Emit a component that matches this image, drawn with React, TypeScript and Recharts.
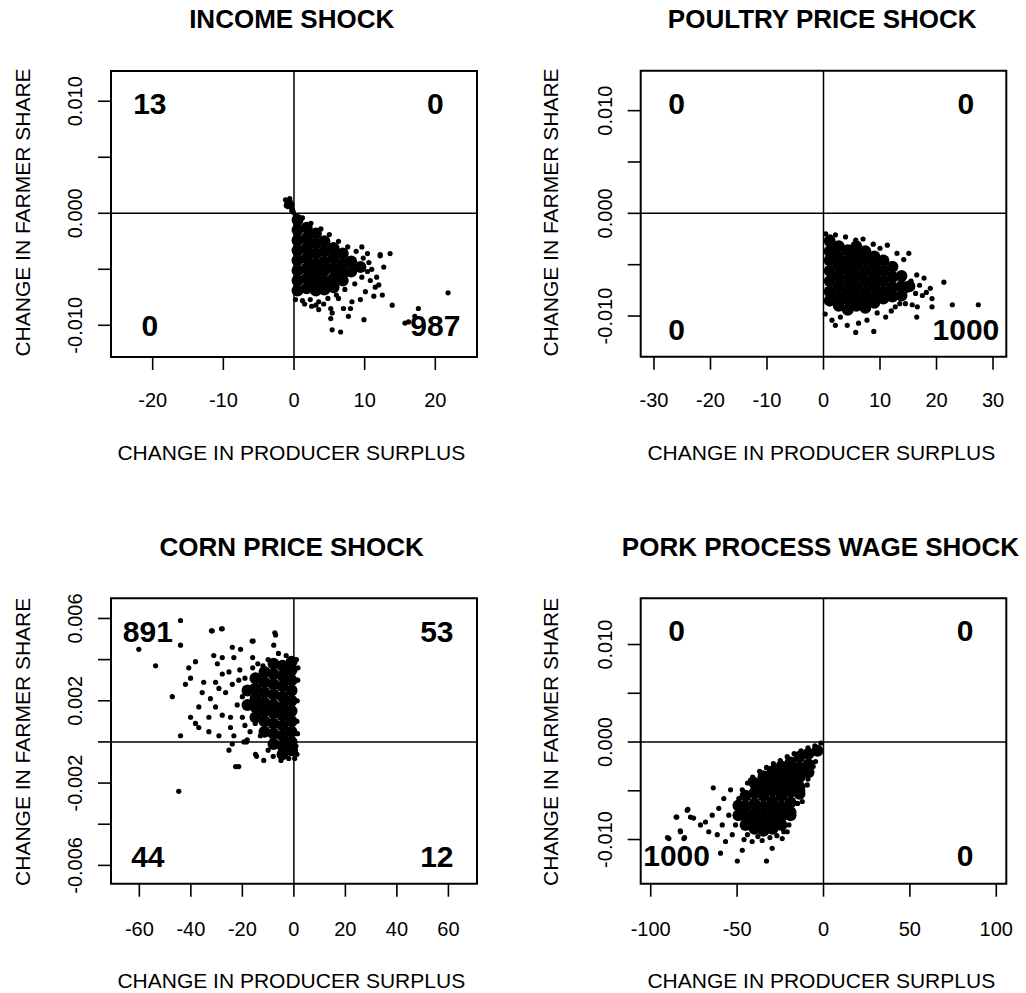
import React from 'react';
import { ScatterChart, Scatter, XAxis, YAxis, ReferenceLine, ReferenceArea, ReferenceDot } from 'recharts';

type P = [number, number];

// ---------------- INCOME SHOCK ----------------
const incomeCore: P[] = [
  [0.5,-0.0006],[0.5,-0.0015],[0.5,-0.0024],[0.5,-0.0033],[0.5,-0.0042],[0.5,-0.0051],[0.5,-0.0060],[0.5,-0.0069],
  [1.8,-0.0013],[1.8,-0.0022],[1.8,-0.0031],[1.8,-0.0040],[1.8,-0.0049],[1.8,-0.0058],[1.8,-0.0067],
  [3.1,-0.0018],[3.1,-0.0027],[3.1,-0.0036],[3.1,-0.0045],[3.1,-0.0054],[3.1,-0.0063],[3.1,-0.0069],
  [4.3,-0.0025],[4.3,-0.0034],[4.3,-0.0043],[4.3,-0.0051],[4.3,-0.0060],[4.3,-0.0068],
  [5.6,-0.0031],[5.6,-0.0040],[5.6,-0.0049],[5.6,-0.0058],[5.6,-0.0066],
  [6.9,-0.0036],[6.9,-0.0045],[6.9,-0.0054],[6.9,-0.0060],
  [8.1,-0.0043],[8.1,-0.0052],
  [9.4,-0.0048],
];
const incomePoints: P[] = [
  [-1.2,0.0012],[-1.0,0.0009],[-0.8,0.0011],[-0.7,0.0007],[-0.5,0.0010],[-0.4,0.0005],[-0.3,0.0008],[-0.2,0.0003],
  [-0.9,0.0006],[-0.6,0.0013],[-0.1,0.0001],[-0.3,0.0002],[-1.1,0.0007],
  [0.2,-0.0002],[1.2,-0.0004],[2.4,-0.0009],[3.8,-0.0014],[5.0,-0.0019],[6.3,-0.0025],[7.6,-0.0030],[8.8,-0.0034],
  [0.2,-0.0077],[1.2,-0.0078],[2.3,-0.0077],[3.5,-0.0079],[4.8,-0.0076],[6.0,-0.0073],[7.2,-0.0068],[8.6,-0.0063],
  [9.6,-0.0057],[10.4,-0.0052],[10.6,-0.0044],[9.8,-0.0040],
  [9.6,-0.0030],[10.4,-0.0036],[12.2,-0.0037],[13.6,-0.0036],[12.7,-0.0048],[11.7,-0.0057],[10.8,-0.0060],[12.0,-0.0064],
  [12.5,-0.0073],[11.3,-0.0074],[10.1,-0.0070],[9.4,-0.0077],[8.2,-0.0079],[8.0,-0.0085],[7.0,-0.0085],[6.3,-0.0076],
  [5.2,-0.0085],[5.4,-0.0089],[5.2,-0.0094],[3.5,-0.0086],[3.1,-0.0082],[7.7,-0.0092],[9.9,-0.0095],[13.9,-0.0082],
  [5.4,-0.0104],[6.6,-0.0106],[17.6,-0.0085],[16.2,-0.0097],[17.1,-0.0092],[21.8,-0.0071],[15.7,-0.0098],[12.2,-0.0038],
  [11.0,-0.0050],[11.5,-0.0066],[1.5,-0.0081],[2.5,-0.0083],[4.2,-0.0081],
];
const incomeXTicks = [-20, -10, 0, 10, 20];
const incomeYTicks = [-0.01, -0.005, 0, 0.005, 0.01];
const incomeYLabels = ['-0.010', '', '0.000', '', '0.010'];
const incomeCounts = ['13', '0', '0', '987'];
const incomeCountX = [-20.4, 20];
const incomeCountY = [0.0098, -0.0100];

// ---------------- POULTRY PRICE SHOCK ----------------
const poultryCore: P[] = [
  [1.1,-0.0027],[1.1,-0.0037],[1.1,-0.0046],[1.1,-0.0056],[1.1,-0.0066],[1.1,-0.0076],[1.1,-0.0085],
  [2.7,-0.0032],[2.7,-0.0042],[2.7,-0.0051],[2.7,-0.0061],[2.7,-0.0071],[2.7,-0.0081],[2.7,-0.0090],
  [4.3,-0.0036],[4.3,-0.0046],[4.3,-0.0055],[4.3,-0.0065],[4.3,-0.0075],[4.3,-0.0084],[4.3,-0.0094],
  [5.8,-0.0032],[5.8,-0.0042],[5.8,-0.0051],[5.8,-0.0061],[5.8,-0.0071],[5.8,-0.0081],[5.8,-0.0090],
  [7.4,-0.0037],[7.4,-0.0046],[7.4,-0.0056],[7.4,-0.0066],[7.4,-0.0076],[7.4,-0.0085],[7.4,-0.0092],
  [9.0,-0.0042],[9.0,-0.0051],[9.0,-0.0061],[9.0,-0.0071],[9.0,-0.0081],[9.0,-0.0087],
  [10.6,-0.0046],[10.6,-0.0056],[10.6,-0.0066],[10.6,-0.0076],[10.6,-0.0083],
  [12.2,-0.0052],[12.2,-0.0062],[12.2,-0.0072],[12.2,-0.0081],
  [13.8,-0.0061],[13.8,-0.0071],[13.8,-0.0080],
  [15.2,-0.0071],
];
const poultryPoints: P[] = [
  [1.2,-0.0023],[2.1,-0.0021],[3.9,-0.0023],[5.7,-0.0026],[11.3,-0.0031],[13.0,-0.0039],[15.1,-0.0039],[14.2,-0.0045],
  [17.8,-0.0063],[21.3,-0.0067],[18.9,-0.0073],[17.5,-0.0080],[19.2,-0.0083],[16.3,-0.0078],[22.8,-0.0089],[19.2,-0.0091],
  [16.6,-0.0091],[15.7,-0.0089],[11.0,-0.0101],[8.9,-0.0115],[5.7,-0.0116],[4.2,-0.0109],[2.1,-0.0109],[1.5,-0.0104],
  [6.2,-0.0107],[7.7,-0.0104],[12.7,-0.0091],[14.5,-0.0088],[27.4,-0.0089],[16.5,-0.0101],[7.0,-0.0025],[8.8,-0.0030],
  [10.0,-0.0034],[16.5,-0.0060],[15.5,-0.0066],[14.8,-0.0075],[13.5,-0.0088],[0.4,-0.0020],[0.3,-0.0098],[3.0,-0.0101],
  [9.5,-0.0097],[12.0,-0.0095],[17.0,-0.0070],[18.2,-0.0077],
];
const poultryXTicks = [-30, -20, -10, 0, 10, 20, 30];
const poultryYTicks = [-0.01, -0.005, 0, 0.005, 0.01];
const poultryYLabels = ['-0.010', '', '0.000', '', '0.010'];
const poultryCounts = ['0', '0', '0', '1000'];
const poultryCountX = [-26.0, 25.2];
const poultryCountY = [0.0107, -0.0113];

// ---------------- CORN PRICE SHOCK ----------------
const cornCore: P[] = [
  [-0.9,0.0039],[-0.9,0.0035],[-0.9,0.0030],[-0.9,0.0025],[-0.9,0.0020],[-0.9,0.0015],[-0.9,0.0010],[-0.9,0.0005],[-0.9,0.0000],[-0.9,-0.0004],
  [-4.4,0.0037],[-4.4,0.0032],[-4.4,0.0027],[-4.4,0.0022],[-4.4,0.0017],[-4.4,0.0013],[-4.4,0.0008],[-4.4,0.0003],[-4.4,-0.0002],[-4.4,-0.0006],
  [-7.9,0.0038],[-7.9,0.0033],[-7.9,0.0028],[-7.9,0.0023],[-7.9,0.0018],[-7.9,0.0014],[-7.9,0.0009],[-7.9,0.0004],[-7.9,-0.0001],
  [-11.4,0.0034],[-11.4,0.0029],[-11.4,0.0024],[-11.4,0.0019],[-11.4,0.0015],[-11.4,0.0010],[-11.4,0.0005],
  [-14.9,0.0031],[-14.9,0.0026],[-14.9,0.0021],[-14.9,0.0017],[-14.9,0.0012],
  [-18.0,0.0025],[-18.0,0.0018],
];
const cornPoints: P[] = [
  [-44.0,0.0059],[-60.2,0.0045],[-53.7,0.0037],[-44.0,0.0047],[-31.7,0.0054],[-27.8,0.0055],[-47.2,0.0022],[-44.0,0.0003],
  [-7.1,0.0052],[-16.2,0.0049],[-23.9,0.0046],[-20.7,0.0045],[-31.1,0.0042],[-27.8,0.0041],[-23.3,0.0041],[-38.2,0.0039],
  [-40.8,0.0036],[-29.7,0.0038],[-40.1,0.0031],[-42.1,0.0028],[-35.0,0.0029],[-30.4,0.0029],[-27.8,0.0033],[-25.2,0.0034],
  [-29.1,0.0026],[-35.6,0.0024],[-23.9,0.0028],[-21.4,0.0030],[-32.4,0.0021],[-26.5,0.0024],[-36.9,0.0017],[-30.4,0.0017],
  [-40.1,0.0012],[-38.2,0.0009],[-33.0,0.0012],[-27.8,0.0013],[-24.6,0.0012],[-20.0,0.0012],[-36.9,0.0007],[-33.0,0.0005],
  [-29.1,0.0003],[-24.6,0.0007],[-23.3,0.0003],[-19.4,0.0000],[-23.9,-0.0001],[-25.2,-0.0004],[-14.9,-0.0006],[-11.7,-0.0009],
  [-22.6,-0.0012],[-18.1,0.0001],[-44.7,-0.0024],[-21.4,-0.0012],[-14.5,-0.0007],[0.3,-0.0008],[-7.4,0.0053],[-7.8,0.0047],
  [-15.8,0.0049],[-28.1,0.0055],[-32.0,0.0054],[-18.4,0.0000],[-16.0,0.0036],[-19.0,0.0031],[-17.0,0.0026],[-20.0,0.0022],
  [-18.0,0.0019],[-15.0,0.0009],[-17.0,0.0005],[-13.0,0.0003],[-14.0,0.0038],[-16.0,0.0041],[-21.0,0.0035],[-22.0,0.0018],
  [-19.0,0.0008],[1.0,0.0040],[1.5,0.0030],[1.3,0.0020],[1.2,0.0010],[1.6,0.0036],[1.4,0.0004],[0.6,-0.0004],
  [1.2,-0.0006],[0.8,-0.0002],[-3.0,0.0042],[-6.0,0.0043],[-10.0,0.0040],[-12.0,0.0037],[-2.0,-0.0008],[-5.0,-0.0009],
  [-8.0,-0.0007],[-10.0,-0.0004],
];
const cornXTicks = [-60, -40, -20, 0, 20, 40, 60];
const cornYTicks = [-0.006, -0.004, -0.002, 0, 0.002, 0.004, 0.006];
const cornYLabels = ['-0.006', '', '-0.002', '', '0.002', '', '0.006'];
const cornCounts = ['891', '53', '44', '12'];
const cornCountX = [-56.7, 55.5];
const cornCountY = [0.00538, -0.00558];

// ---------------- PORK PROCESS WAGE SHOCK ----------------
const porkCore: P[] = [
  [-3.5,-0.0009],
  [-8.7,-0.0012],[-8.7,-0.0023],[-8.7,-0.0031],
  [-13.9,-0.0015],[-13.9,-0.0026],[-13.9,-0.0036],[-13.9,-0.0046],[-13.9,-0.0053],
  [-19.1,-0.0021],[-19.1,-0.0031],[-19.1,-0.0041],[-19.1,-0.0051],[-19.1,-0.0062],[-19.1,-0.0072],[-19.1,-0.0075],
  [-24.3,-0.0025],[-24.3,-0.0035],[-24.3,-0.0045],[-24.3,-0.0055],[-24.3,-0.0066],[-24.3,-0.0076],[-24.3,-0.0085],
  [-29.5,-0.0030],[-29.5,-0.0040],[-29.5,-0.0050],[-29.5,-0.0061],[-29.5,-0.0071],[-29.5,-0.0081],[-29.5,-0.0089],
  [-34.7,-0.0035],[-34.7,-0.0045],[-34.7,-0.0055],[-34.7,-0.0066],[-34.7,-0.0076],[-34.7,-0.0086],[-34.7,-0.0091],
  [-39.9,-0.0042],[-39.9,-0.0052],[-39.9,-0.0063],[-39.9,-0.0073],[-39.9,-0.0083],[-39.9,-0.0089],
  [-45.1,-0.0055],[-45.1,-0.0066],[-45.1,-0.0076],[-45.1,-0.0085],
  [-49.2,-0.0065],[-49.2,-0.0075],
];
const porkPoints: P[] = [
  [-1.5,-0.0001],[-5.0,-0.0004],[-9.0,-0.0006],[-13.0,-0.0009],[-17.0,-0.0012],[-21.0,-0.0015],[-25.0,-0.0019],[-29.0,-0.0022],
  [-33.0,-0.0026],[-37.0,-0.0030],[-41.0,-0.0036],[-44.0,-0.0042],
  [-3.0,-0.0011],[-6.0,-0.0025],[-9.0,-0.0038],[-12.0,-0.0050],[-15.0,-0.0063],[-17.5,-0.0075],[-20.0,-0.0085],[-23.0,-0.0092],
  [-27.0,-0.0096],[-31.0,-0.0098],
  [-63.8,-0.0047],[-78.9,-0.0070],[-85.3,-0.0077],[-77.0,-0.0077],[-71.2,-0.0085],[-82.8,-0.0092],[-89.5,-0.0099],[-80.8,-0.0099],
  [-90.3,-0.0098],[-49.9,-0.0122],[-33.0,-0.0122],[-59.6,-0.0114],[-47.0,-0.0111],[-29.7,-0.0109],[-64.4,-0.0075],[-60.6,-0.0068],
  [-57.7,-0.0058],[-53.8,-0.0049],[-47.0,-0.0049],[-42.2,-0.0039],[-28.8,-0.0025],[-68.3,-0.0082],[-66.4,-0.0092],[-61.5,-0.0095],
  [-56.7,-0.0102],[-52.8,-0.0095],[-50.9,-0.0085],[-58.6,-0.0085],[-54.8,-0.0075],[-50.9,-0.0066],[-49.0,-0.0058],[-41.3,-0.0102],
  [-35.5,-0.0101],[-23.9,-0.0099],[-21.0,-0.0092],[-12.3,-0.0061],[-9.4,-0.0044],[-4.6,-0.0020],[-84.9,-0.0077],[-78.5,-0.0069],
  [-75.2,-0.0078],[-82.9,-0.0091],[-80.4,-0.0098],[-44.0,-0.0095],[-38.0,-0.0097],[-46.0,-0.0100],
];
const porkXTicks = [-100, -50, 0, 50, 100];
const porkYTicks = [-0.01, -0.005, 0, 0.005, 0.01];
const porkYLabels = ['-0.010', '', '0.000', '', '0.010'];
const porkCounts = ['0', '0', '1000', '0'];
const porkCountX = [-85.0, 82.0];
const porkCountY = [0.01142, -0.01164];

const FONT = "'Liberation Sans', Arial, Helvetica, sans-serif";

const panels = [
  {
    left: 0, top: 0, mt: 71, mr: 36, yw: 111, xh: 140, xtm: 36.7,
    xDomain: [-25.9, 25.9], yDomain: [-0.01283, 0.0127],
    core: incomeCore, pts: incomePoints, xTicks: incomeXTicks, yTicks: incomeYTicks, yLabels: incomeYLabels,
    counts: incomeCounts, cx: incomeCountX, cy: incomeCountY,
  },
  {
    left: 513, top: 0, mt: 70.7, mr: 19.7, yw: 127.7, xh: 140.3, xtm: 37,
    xDomain: [-32.35, 32.35], yDomain: [-0.01396, 0.01389],
    core: poultryCore, pts: poultryPoints, xTicks: poultryXTicks, yTicks: poultryYTicks, yLabels: poultryYLabels,
    counts: poultryCounts, cx: poultryCountX, cy: poultryCountY,
  },
  {
    left: 0, top: 496, mt: 102.3, mr: 36, yw: 111, xh: 109.3, xtm: 39.3,
    xDomain: [-71, 71.1], yDomain: [-0.00689, 0.00698],
    core: cornCore, pts: cornPoints, xTicks: cornXTicks, yTicks: cornYTicks, yLabels: cornYLabels,
    counts: cornCounts, cx: cornCountX, cy: cornCountY,
  },
  {
    left: 513, top: 496, mt: 102.3, mr: 19.7, yw: 127.7, xh: 109.3, xtm: 39.3,
    xDomain: [-105.8, 105.8], yDomain: [-0.01453, 0.01474],
    core: porkCore, pts: porkPoints, xTicks: porkXTicks, yTicks: porkYTicks, yLabels: porkYLabels,
    counts: porkCounts, cx: porkCountX, cy: porkCountY,
  },
];

const titles = [
  { text: 'INCOME SHOCK', x: 291.7, y: 28.3 },
  { text: 'POULTRY PRICE SHOCK', x: 822.2, y: 28.3 },
  { text: 'CORN PRICE SHOCK', x: 291.7, y: 556 },
  { text: 'PORK PROCESS WAGE SHOCK', x: 820.5, y: 556 },
];
const xLabels = [
  { x: 291.3, y: 460 }, { x: 821.3, y: 460 }, { x: 291.3, y: 987.7 }, { x: 821.3, y: 987.7 },
];
const yLabels = [
  { x: 30, y: 212.5 }, { x: 558, y: 212.5 }, { x: 30, y: 741.8 }, { x: 558, y: 741.8 },
];

const toObj = (a: P[]) => a.map(([x, y]) => ({ x, y }));

function Panel({ cfg }: { cfg: any }) {
  const core = toObj(cfg.core);
  const pts = toObj(cfg.pts);
  const yLab = (v: number) => {
    const i = cfg.yTicks.findIndex((t: number) => Math.abs(t - v) < 1e-9);
    return i >= 0 ? cfg.yLabels[i] : '';
  };
  const quad = [
    { t: cfg.counts[0], x: cfg.cx[0], y: cfg.cy[0] },
    { t: cfg.counts[1], x: cfg.cx[1], y: cfg.cy[0] },
    { t: cfg.counts[2], x: cfg.cx[0], y: cfg.cy[1] },
    { t: cfg.counts[3], x: cfg.cx[1], y: cfg.cy[1] },
  ];
  return (
    <div style={{ position: 'absolute', left: cfg.left, top: cfg.top, width: 513, height: 497 }}>
      <ScatterChart width={513} height={497} margin={{ top: cfg.mt, right: cfg.mr, bottom: 0, left: 0 }}>
        <XAxis
          type="number" dataKey="x" domain={cfg.xDomain} ticks={cfg.xTicks} interval={0} allowDataOverflow
          height={cfg.xh} tickSize={13} tickMargin={cfg.xtm} axisLine={false}
          tickLine={{ stroke: '#000', strokeWidth: 1.6 }}
          tick={(p: any) => (
            <text x={p.x} y={p.y} textAnchor="middle" fontSize={20} fontFamily={FONT} fill="#000">
              {p.payload.value}
            </text>
          )}
        />
        <YAxis
          type="number" dataKey="y" domain={cfg.yDomain} ticks={cfg.yTicks} interval={0} allowDataOverflow
          width={cfg.yw} tickSize={13} tickMargin={16} axisLine={false}
          tickLine={{ stroke: '#000', strokeWidth: 1.6 }}
          tick={(p: any) => (
            <text x={p.x} y={p.y} transform={`rotate(-90 ${p.x} ${p.y})`} textAnchor="middle" fontSize={20} fontFamily={FONT} fill="#000">
              {yLab(p.payload.value)}
            </text>
          )}
        />
        <ReferenceLine x={0} stroke="#000" strokeWidth={1.5} />
        <ReferenceLine y={0} stroke="#000" strokeWidth={1.5} />
        <Scatter data={core} isAnimationActive={false}
          shape={(p: any) => <circle cx={p.cx} cy={p.cy} r={6} fill="#000" />} />
        <Scatter data={pts} isAnimationActive={false}
          shape={(p: any) => <circle cx={p.cx} cy={p.cy} r={2.6} fill="#000" />} />
        <ReferenceArea x1={cfg.xDomain[0]} x2={cfg.xDomain[1]} y1={cfg.yDomain[0]} y2={cfg.yDomain[1]}
          fill="none" fillOpacity={0} stroke="#000" strokeWidth={2} ifOverflow="visible" />
        {quad.map((q, i) => (
          <ReferenceDot key={i} x={q.x} y={q.y} r={0} ifOverflow="visible"
            shape={(p: any) => (
              <text x={p.cx} y={p.cy + 10.7} textAnchor="middle" fontSize={30} fontWeight="bold" fontFamily={FONT} fill="#000">
                {q.t}
              </text>
            )}
          />
        ))}
      </ScatterChart>
    </div>
  );
}

export default function App() {
  return (
    <div style={{ position: 'relative', width: 1026, height: 993, background: '#fff', overflow: 'hidden' }}>
      <style>{'body{margin:0;background:#fff}'}</style>
      {panels.map((cfg, i) => <Panel key={i} cfg={cfg} />)}
      <svg width={1026} height={993} style={{ position: 'absolute', left: 0, top: 0, pointerEvents: 'none' }}>
        {titles.map((t, i) => (
          <text key={'t' + i} x={t.x} y={t.y} textAnchor="middle" fontSize={26} fontWeight="bold" fontFamily={FONT} fill="#000">
            {t.text}
          </text>
        ))}
        {xLabels.map((l, i) => (
          <text key={'x' + i} x={l.x} y={l.y} textAnchor="middle" fontSize={21} fontFamily={FONT} fill="#000">
            CHANGE IN PRODUCER SURPLUS
          </text>
        ))}
        {yLabels.map((l, i) => (
          <text key={'y' + i} x={l.x} y={l.y} transform={`rotate(-90 ${l.x} ${l.y})`} textAnchor="middle" fontSize={21} fontFamily={FONT} fill="#000">
            CHANGE IN FARMER SHARE
          </text>
        ))}
      </svg>
    </div>
  );
}
